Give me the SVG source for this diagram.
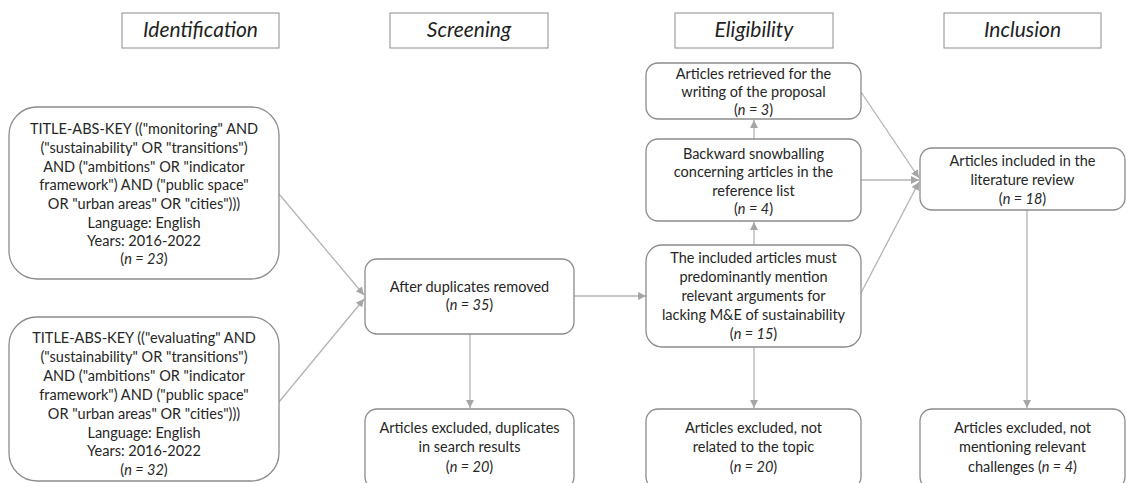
<svg xmlns="http://www.w3.org/2000/svg" width="1126" height="483" viewBox="0 0 1126 483">
<defs>
<style>
.hdr{fill:#fff;stroke:#8c8c8c;stroke-width:1}
.box{fill:#fff;stroke:#8c8c8c;stroke-width:1.3}
.ht{font-family:Lato,"Liberation Sans",sans-serif;font-style:italic;font-size:21px;fill:#1f1f1f;text-anchor:middle}
.t{font-family:Lato,"Liberation Sans",sans-serif;font-size:14.5px;fill:#262626;text-anchor:middle}
.i{font-style:italic}
.c{stroke:#b4b4b4;stroke-width:1.3;fill:none;marker-end:url(#ah)}
</style>
<marker id="ah" viewBox="0 0 10 10" refX="10" refY="5" markerWidth="8" markerHeight="8" markerUnits="userSpaceOnUse" orient="auto">
<path d="M0,0 L10,5 L0,10 z" fill="#a6a6a6"/>
</marker>
</defs>
<rect width="1126" height="483" fill="#fff"/>

<g id="headers">
<g id="h-identification"><rect class="hdr" x="122" y="13" width="157" height="35"/><text class="ht" x="200.5" y="37">Identification</text></g>
<g id="h-screening"><rect class="hdr" x="390" y="13" width="158" height="35"/><text class="ht" x="469" y="37">Screening</text></g>
<g id="h-eligibility"><rect class="hdr" x="675" y="13" width="158" height="35"/><text class="ht" x="754" y="37">Eligibility</text></g>
<g id="h-inclusion"><rect class="hdr" x="944" y="13" width="157" height="35"/><text class="ht" x="1022.5" y="37">Inclusion</text></g>
</g>

<g id="connectors">
<line class="c" x1="279" y1="194" x2="364" y2="295"/>
<line class="c" x1="279" y1="402" x2="364" y2="299"/>
<line class="c" x1="574" y1="296" x2="646" y2="296"/>
<line class="c" x1="470" y1="334" x2="470" y2="408"/>
<line class="c" x1="754" y1="245" x2="754" y2="222"/>
<line class="c" x1="754" y1="139" x2="754" y2="120"/>
<line class="c" x1="754" y1="347" x2="754" y2="408"/>
<line class="c" x1="861" y1="92" x2="919" y2="178"/>
<line class="c" x1="861" y1="180" x2="919" y2="180"/>
<line class="c" x1="861" y1="293" x2="919" y2="182"/>
<line class="c" x1="1027" y1="210" x2="1027" y2="408"/>
</g>

<g id="n-search1">
<rect class="box" x="9" y="107" width="270" height="172" rx="28"/>
<text class="t" x="144" y="134">TITLE-ABS-KEY (("monitoring" AND</text>
<text class="t" x="144" y="153">("sustainability" OR "transitions")</text>
<text class="t" x="144" y="172">AND ("ambitions" OR "indicator</text>
<text class="t" x="144" y="190">framework") AND ("public space"</text>
<text class="t" x="144" y="209">OR "urban areas" OR "cities")))</text>
<text class="t" x="144" y="228">Language: English</text>
<text class="t" x="144" y="246">Years: 2016-2022</text>
<text class="t" x="144" y="264">(<tspan class="i">n = 23</tspan>)</text>
</g>

<g id="n-search2">
<rect class="box" x="9" y="317" width="270" height="164" rx="28"/>
<text class="t" x="144" y="343">TITLE-ABS-KEY (("evaluating" AND</text>
<text class="t" x="144" y="362">("sustainability" OR "transitions")</text>
<text class="t" x="144" y="381">AND ("ambitions" OR "indicator</text>
<text class="t" x="144" y="400">framework") AND ("public space"</text>
<text class="t" x="144" y="419">OR "urban areas" OR "cities")))</text>
<text class="t" x="144" y="438">Language: English</text>
<text class="t" x="144" y="456">Years: 2016-2022</text>
<text class="t" x="144" y="475">(<tspan class="i">n = 32</tspan>)</text>
</g>

<g id="n-dedup">
<rect class="box" x="365" y="259" width="209" height="75" rx="12"/>
<text class="t" x="469.5" y="292">After duplicates removed</text>
<text class="t" x="469.5" y="310">(<tspan class="i">n = 35</tspan>)</text>
</g>

<g id="n-excl-dup">
<rect class="box" x="365" y="409" width="209" height="80" rx="12"/>
<text class="t" x="469.5" y="433">Articles excluded, duplicates</text>
<text class="t" x="469.5" y="452">in search results</text>
<text class="t" x="469.5" y="472">(<tspan class="i">n = 20</tspan>)</text>
</g>

<g id="n-proposal">
<rect class="box" x="646" y="63" width="215" height="56" rx="12"/>
<text class="t" x="753.5" y="79">Articles retrieved for the</text>
<text class="t" x="753.5" y="97">writing of the proposal</text>
<text class="t" x="753.5" y="115">(<tspan class="i">n = 3</tspan>)</text>
</g>

<g id="n-snowball">
<rect class="box" x="646" y="139" width="215" height="82" rx="12"/>
<text class="t" x="753.5" y="159">Backward snowballing</text>
<text class="t" x="753.5" y="177">concerning articles in the</text>
<text class="t" x="753.5" y="196">reference list</text>
<text class="t" x="753.5" y="214">(<tspan class="i">n = 4</tspan>)</text>
</g>

<g id="n-included">
<rect class="box" x="646" y="245" width="215" height="102" rx="16"/>
<text class="t" x="753.5" y="263">The included articles must</text>
<text class="t" x="753.5" y="282">predominantly mention</text>
<text class="t" x="753.5" y="301">relevant arguments for</text>
<text class="t" x="753.5" y="320">lacking M&amp;E of sustainability</text>
<text class="t" x="753.5" y="339">(<tspan class="i">n = 15</tspan>)</text>
</g>

<g id="n-excl-topic">
<rect class="box" x="646" y="409" width="215" height="80" rx="12"/>
<text class="t" x="753.5" y="433">Articles excluded, not</text>
<text class="t" x="753.5" y="452">related to the topic</text>
<text class="t" x="753.5" y="472">(<tspan class="i">n = 20</tspan>)</text>
</g>

<g id="n-review">
<rect class="box" x="920" y="148" width="205" height="62" rx="12"/>
<text class="t" x="1022.5" y="166">Articles included in the</text>
<text class="t" x="1022.5" y="185">literature review</text>
<text class="t" x="1022.5" y="204">(<tspan class="i">n = 18</tspan>)</text>
</g>

<g id="n-excl-chall">
<rect class="box" x="920" y="409" width="205" height="80" rx="12"/>
<text class="t" x="1022.5" y="433">Articles excluded, not</text>
<text class="t" x="1022.5" y="452">mentioning relevant</text>
<text class="t" x="1022.5" y="472">challenges (<tspan class="i">n = 4</tspan>)</text>
</g>
</svg>
